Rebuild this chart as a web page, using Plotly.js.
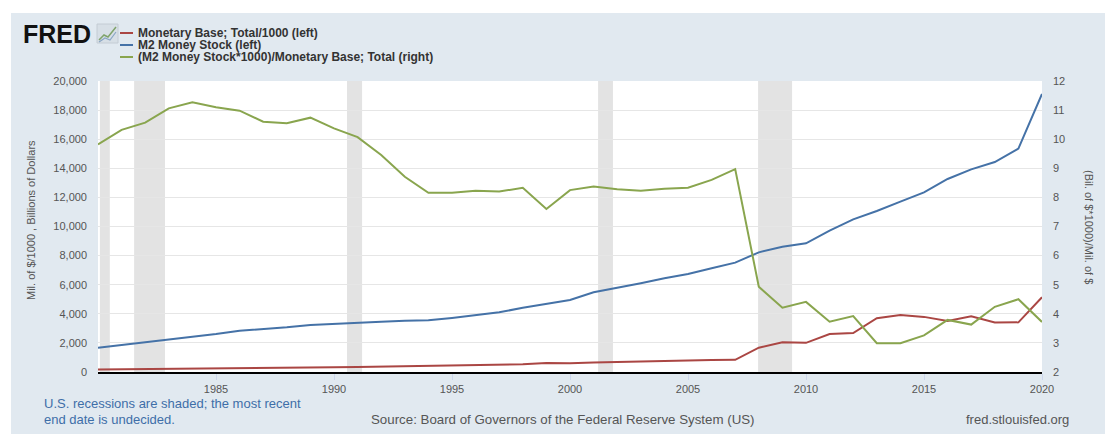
<!DOCTYPE html>
<html>
<head>
<meta charset="utf-8">
<script src="https://cdn.plot.ly/plotly-3.0.1.min.js"></script>
<style>html,body{margin:0;padding:0;background:#fff;}#chart{width:1105px;height:434px;}</style>
</head>
<body>
<div id="chart"></div>
<script>
// ---- data ----
const years = [1980,1981,1982,1983,1984,1985,1986,1987,1988,1989,1990,1991,1992,1993,1994,1995,1996,1997,1998,1999,
               2000,2001,2002,2003,2004,2005,2006,2007,2008,2009,2010,2011,2012,2013,2014,2015,2016,2017,2018,2019,2020];
const monetaryBase = [170,180,191,203,215,235,259,277,291,301,320,339,366,405,435,455,473,500,531,618,
                      600,654,697,740,776,808,828,838,1668,2045,2005,2604,2677,3700,3915,3788,3500,3837,3404,3411,5136];
const m2Stock = [1670,1856,2016,2245,2428,2612,2840,2933,3070,3230,3320,3415,3460,3530,3550,3710,3895,4100,4420,4695,
                 4950,5475,5770,6093,6437,6735,7125,7515,8225,8612,8843,9712,10493,11065,11705,12350,13265,13930,14433,15350,19105];
const ratio = [9.82,10.32,10.57,11.06,11.27,11.10,10.98,10.60,10.55,10.74,10.37,10.07,9.46,8.71,8.16,8.16,8.23,8.20,8.33,7.60,
               8.25,8.37,8.28,8.23,8.30,8.33,8.60,8.97,4.93,4.21,4.41,3.73,3.92,2.99,2.99,3.26,3.79,3.63,4.24,4.50,3.72];
const recessionStart = [1980.08,1981.53,1990.55,2001.19,2007.97];
const recessionEnd   = [1980.50,1982.84,1991.19,2001.82,2009.41];
const seriesNames = ["Monetary Base; Total/1000 (left)","M2 Money Stock (left)","(M2 Money Stock*1000)/Monetary Base; Total (right)"];
const xTicks = [1985,1990,1995,2000,2005,2010,2015,2020];

// ---- styling ----
const colors = ["#aa4643","#4572a7","#89a54e"];
const FONT = "Liberation Sans, Arial, sans-serif";
const L = 98, R = 1042, T = 81, B = 372;
const px = v => (v - L) / (R - L);
const py = v => (B - v) / (B - T);

const traces = [
  {x: years, y: monetaryBase, name: seriesNames[0], type: "scatter", mode: "lines", line: {color: colors[0], width: 2}, yaxis: "y"},
  {x: years, y: m2Stock, name: seriesNames[1], type: "scatter", mode: "lines", line: {color: colors[1], width: 2}, yaxis: "y"},
  {x: years, y: ratio, name: seriesNames[2], type: "scatter", mode: "lines", line: {color: colors[2], width: 2}, yaxis: "y2"}
];

const shapes = [];
// white outer strips
shapes.push({type: "rect", xref: "paper", yref: "paper", x0: px(0), x1: px(1105), y0: py(0), y1: py(13), fillcolor: "#ffffff", line: {width: 0}, layer: "below"});
shapes.push({type: "rect", xref: "paper", yref: "paper", x0: px(0), x1: px(11), y0: py(0), y1: py(434), fillcolor: "#ffffff", line: {width: 0}, layer: "below"});
// recessions
for (let i = 0; i < recessionStart.length; i++) {
  shapes.push({type: "rect", xref: "x", yref: "paper", x0: recessionStart[i], x1: recessionEnd[i], y0: 0, y1: 1,
               fillcolor: "#e3e3e3", line: {width: 0}, layer: "between"});
}
// legend lines
const legY = [33, 45, 57];
const annotations = [];
for (let i = 0; i < 3; i++) {
  shapes.push({type: "line", xref: "paper", yref: "paper", x0: px(120), x1: px(133), y0: py(legY[i]), y1: py(legY[i]),
               line: {color: colors[i], width: 2}});
  annotations.push({xref: "paper", yref: "paper", x: px(136), y: py(legY[i]), xanchor: "left", yanchor: "middle",
                    text: seriesNames[i], showarrow: false, font: {family: FONT, size: 12, color: "#333333", weight: "bold"}});
}
// FRED logo icon
shapes.push({type: "rect", xref: "paper", yref: "paper", x0: px(97), x1: px(118), y0: py(43), y1: py(24),
             fillcolor: "#d7dfe6", line: {color: "#c4ccd4", width: 1}});
shapes.push({type: "path", xref: "paper", yref: "paper",
             path: "M " + px(99) + "," + py(40) + " L " + px(104) + "," + py(35) + " L " + px(108) + "," + py(37) + " L " + px(116) + "," + py(27),
             line: {color: "#7fa36a", width: 1.5}});
shapes.push({type: "path", xref: "paper", yref: "paper",
             path: "M " + px(99) + "," + py(42) + " L " + px(105) + "," + py(38) + " L " + px(110) + "," + py(40) + " L " + px(116) + "," + py(32),
             line: {color: "#8aa6c4", width: 1.2}});

annotations.push({xref: "paper", yref: "paper", x: px(21), y: py(34), xanchor: "left", yanchor: "middle", text: "FRED",
                  showarrow: false, font: {family: FONT, size: 25, color: "#111111", weight: "bold"}});
// axis titles
annotations.push({xref: "paper", yref: "paper", x: px(31), y: py(220), xanchor: "center", yanchor: "middle", textangle: -90,
                  text: "Mil. of $/1000 , Billions of Dollars", showarrow: false, font: {family: FONT, size: 11, color: "#555555"}});
annotations.push({xref: "paper", yref: "paper", x: px(1089), y: py(227), xanchor: "center", yanchor: "middle", textangle: 90,
                  text: "(Bil. of $*1000)/Mil. of $", showarrow: false, font: {family: FONT, size: 11, color: "#555555"}});
// footer
annotations.push({xref: "paper", yref: "paper", x: px(42), y: py(403), xanchor: "left", yanchor: "middle",
                  text: "U.S. recessions are shaded; the most recent", showarrow: false, font: {family: FONT, size: 13, color: "#3e6ea8"}});
annotations.push({xref: "paper", yref: "paper", x: px(42), y: py(419), xanchor: "left", yanchor: "middle",
                  text: "end date is undecided.", showarrow: false, font: {family: FONT, size: 13, color: "#3e6ea8"}});
annotations.push({xref: "paper", yref: "paper", x: px(369), y: py(419), xanchor: "left", yanchor: "middle",
                  text: "Source: Board of Governors of the Federal Reserve System (US)", showarrow: false, font: {family: FONT, size: 13.3, color: "#555555"}});
annotations.push({xref: "paper", yref: "paper", x: px(1071), y: py(419), xanchor: "right", yanchor: "middle",
                  text: "fred.stlouisfed.org", showarrow: false, font: {family: FONT, size: 13, color: "#555555"}});

const layout = {
  width: 1105, height: 434,
  margin: {l: L, r: 1105 - R, t: T, b: 434 - B, pad: 0},
  paper_bgcolor: "#e1e9f0",
  plot_bgcolor: "#ffffff",
  showlegend: false,
  font: {family: FONT, size: 11, color: "#555555"},
  xaxis: {range: [1980, 2020], tickvals: xTicks, ticktext: xTicks.map(String), showgrid: false, zeroline: false,
          showline: true, linecolor: "#000000", linewidth: 2, ticks: "outside", ticklen: 6, tickcolor: "#ccd6eb",
          tickfont: {family: FONT, size: 11, color: "#555555"}, fixedrange: true},
  yaxis: {range: [0, 20000], dtick: 2000, tick0: 0, tickformat: ",", showgrid: true, gridcolor: "#e6e6e6", gridwidth: 1,
          zeroline: false, showline: false, ticks: "", ticklabelstandoff: 10, tickfont: {family: FONT, size: 11, color: "#555555"}},
  yaxis2: {range: [2, 12], dtick: 1, tick0: 2, overlaying: "y", side: "right", showgrid: false, zeroline: false,
           showline: false, ticks: "", ticklabelstandoff: 10, tickfont: {family: FONT, size: 11, color: "#555555"}},
  shapes: shapes,
  annotations: annotations
};

Plotly.newPlot("chart", traces, layout, {displayModeBar: false, staticPlot: true});
</script>
</body>
</html>
